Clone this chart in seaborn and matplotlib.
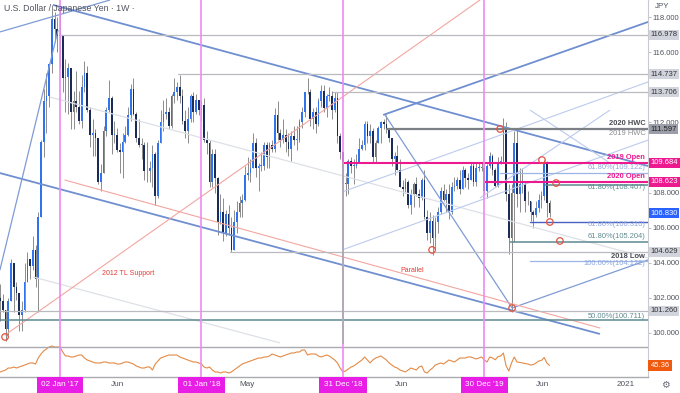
import numpy as np
import matplotlib
matplotlib.use("Agg")
import matplotlib.pyplot as plt
import seaborn as sns
from matplotlib.transforms import blended_transform_factory

# ---------------- data (weekly USD/JPY, Aug 2016 - Jun 2020) ----------------
first_open = 102.0
close_2016 = [101.8, 101.3, 100.2, 101.8, 104.0, 102.6, 102.3, 101.0, 101.3, 102.9, 104.2, 103.8,
              104.7, 103.1, 106.6, 110.9, 113.2, 113.5, 115.3, 117.9, 117.3, 116.9]
high_2016 = [102.8, 102.2, 101.3, 102.0, 104.2, 104.0, 102.9, 102.3, 101.8, 104.0, 104.6, 104.2,
             105.5, 105.0, 106.9, 111.0, 113.9, 114.8, 115.4, 118.66, 118.3, 118.0]
low_2016 = [100.7, 101.2, 99.55, 99.9, 101.8, 101.2, 101.9, 100.1, 100.1, 101.2, 102.9, 103.1,
            103.6, 102.6, 101.2, 106.6, 110.0, 111.4, 112.9, 114.8, 116.6, 116.0]

close_2017 = [117.0, 114.5, 114.6, 115.1, 112.6, 113.2, 112.9, 112.1, 114.0, 114.8, 112.7, 111.3,
              111.4, 111.1, 108.6, 109.1, 111.5, 112.7, 113.4, 111.3, 111.3, 110.4, 110.3, 110.9,
              111.3, 112.4, 113.9, 112.5, 111.1, 110.7, 110.7, 109.2, 109.2, 109.4, 110.2, 107.8,
              110.8, 112.0, 112.5, 112.6, 111.8, 113.5, 113.7, 114.0, 113.5, 112.1, 111.5, 112.2,
              113.5, 112.6, 113.3, 112.7]
high_2017 = [118.6, 116.9, 115.6, 115.4, 115.1, 113.8, 114.9, 113.8, 114.7, 115.5, 115.2, 112.9,
             112.2, 111.6, 111.1, 109.6, 111.8, 112.9, 114.4, 113.5, 112.1, 111.7, 110.8, 111.4,
             111.8, 112.9, 114.2, 114.5, 112.6, 112.2, 111.1, 110.9, 110.9, 109.8, 110.7, 110.3,
             111.0, 112.7, 113.3, 113.4, 112.9, 113.6, 114.5, 114.3, 114.7, 113.9, 112.7, 112.9,
             113.6, 113.7, 113.6, 113.3]
low_2017 = [115.1, 113.7, 112.6, 112.5, 111.6, 111.6, 112.6, 111.9, 111.7, 113.7, 112.6, 110.6,
            110.1, 110.1, 108.5, 108.1, 109.1, 111.2, 112.6, 110.2, 110.8, 110.3, 109.1, 108.8,
            110.8, 111.2, 112.1, 112.4, 110.9, 110.6, 109.9, 108.7, 108.6, 108.6, 108.3, 107.3,
            107.7, 110.8, 111.5, 112.2, 111.6, 111.7, 113.1, 113.3, 113.1, 111.9, 111.1, 110.8,
            112.0, 112.0, 112.5, 112.4]

close_2018 = [113.0, 111.0, 110.8, 108.6, 110.2, 108.8, 106.3, 106.9, 105.7, 106.8, 106.0, 104.7,
              106.3, 106.9, 107.4, 107.6, 109.0, 109.1, 109.4, 110.8, 109.4, 109.5, 109.5, 110.7,
              110.0, 110.7, 110.5, 112.4, 111.4, 111.0, 111.3, 110.9, 110.5, 111.2, 111.0, 111.0,
              112.0, 112.6, 113.7, 113.7, 112.2, 112.6, 111.9, 113.2, 113.8, 112.8, 113.5, 113.5,
              112.7, 113.4, 111.2, 110.3]
high_2018 = [113.3, 113.4, 111.5, 111.0, 110.5, 110.5, 108.9, 107.9, 107.7, 107.0, 107.3, 106.6,
             107.0, 107.5, 107.8, 107.9, 109.5, 110.0, 109.9, 111.4, 111.1, 109.7, 110.3, 110.9,
             110.9, 110.9, 111.0, 112.8, 113.2, 111.6, 112.2, 111.6, 111.4, 111.5, 111.8, 111.8,
             112.2, 112.9, 113.7, 114.55, 113.9, 112.8, 112.9, 113.4, 114.1, 114.1, 113.6, 114.0,
             113.8, 113.7, 113.7, 111.4]
low_2018 = [112.1, 110.9, 110.2, 108.3, 108.3, 108.0, 105.6, 106.2, 105.25, 105.5, 105.6, 104.63,
            104.7, 105.7, 106.6, 106.6, 107.5, 108.7, 108.6, 109.4, 108.9, 108.1, 109.2, 109.3,
            109.4, 109.4, 110.3, 110.3, 111.0, 110.6, 110.8, 110.3, 110.1, 109.8, 110.7, 110.4,
            110.9, 111.7, 112.3, 113.6, 111.8, 111.6, 111.4, 111.8, 112.9, 112.6, 112.3, 113.2,
            112.2, 112.6, 110.8, 109.9]

close_2019 = [108.5, 108.5, 109.8, 109.5, 109.5, 109.7, 110.5, 110.7, 111.9, 111.2, 111.5, 110.0,
              110.8, 111.7, 112.0, 111.9, 111.6, 111.1, 109.9, 110.1, 109.3, 108.3, 108.2, 108.6,
              107.3, 107.9, 108.5, 107.9, 107.7, 108.7, 106.6, 105.7, 106.4, 105.4, 106.3, 106.9,
              108.1, 107.6, 107.9, 106.9, 108.3, 108.4, 108.7, 108.2, 109.3, 108.8, 108.7, 109.5,
              108.6, 109.4, 109.4, 109.4]
high_2019 = [110.3, 109.1, 109.9, 110.0, 109.9, 110.2, 111.1, 111.0, 112.1, 112.1, 111.9, 111.7,
             111.0, 111.8, 112.1, 112.2, 112.4, 111.7, 111.1, 110.3, 110.7, 109.9, 108.7, 108.8,
             108.7, 108.2, 108.6, 108.9, 108.2, 108.8, 109.3, 107.0, 106.9, 106.7, 106.6, 107.2,
             108.3, 108.5, 108.2, 108.5, 108.6, 108.9, 108.9, 109.3, 109.5, 109.4, 109.1, 109.7,
             109.7, 109.7, 109.7, 109.7]
low_2019 = [104.9, 107.8, 107.9, 109.1, 108.5, 109.4, 109.7, 110.4, 110.4, 110.8, 110.8, 109.7,
            109.7, 110.8, 110.8, 111.6, 111.4, 110.9, 109.5, 109.0, 109.3, 108.3, 107.8, 108.0,
            107.1, 106.8, 107.2, 107.8, 107.2, 107.6, 106.5, 105.3, 105.1, 104.46, 104.8, 105.7,
            106.8, 107.5, 106.9, 106.5, 106.8, 108.1, 108.2, 107.9, 108.2, 108.3, 108.2, 108.7,
            108.4, 108.4, 109.2, 109.2]

close_2020 = [108.1, 109.5, 110.1, 109.3, 108.4, 109.7, 109.8, 111.6, 107.9, 105.4, 108.0, 110.8,
              107.9, 108.5, 108.5, 107.5, 107.5, 106.9, 106.7, 107.1, 107.6, 107.8, 109.6, 107.4,
              106.83]
high_2020 = [109.7, 109.6, 110.3, 110.2, 109.4, 110.0, 110.1, 112.23, 112.0, 108.5, 108.5, 111.5,
             111.7, 109.4, 109.4, 108.6, 108.1, 107.5, 107.0, 107.5, 107.9, 108.1, 109.85, 109.8,
             107.6]
low_2020 = [107.9, 107.7, 109.4, 109.0, 108.3, 108.3, 109.6, 109.7, 107.5, 104.5, 101.18, 105.2,
            107.2, 106.9, 108.0, 106.9, 107.3, 106.4, 106.0, 106.6, 106.9, 107.1, 107.6, 106.6,
            106.6]

rsi_values = [36.7, 38, 39.3, 42, 42, 43.3, 42, 43.3, 44.7, 46, 47.3, 48.7, 48.7, 47.3, 55.3, 60.7,
              64.7, 67.3, 70, 71.3, 70, 70,
              70, 63.3, 58, 58, 56.7, 56.7, 58, 59.3, 59.3, 55.3, 52.7, 51.3, 50, 48.7, 48.7, 48.7,
              50, 50, 48.7, 48.7, 48.7, 47.3, 47.3, 48.7, 50, 50, 48.7, 47.3, 44.7, 43.3, 42, 42,
              43.3, 43.3, 39.3, 47.3, 51.3, 55.3, 56.7, 58, 59.3, 59.3, 59.3, 59.3, 56.7, 55.3, 54,
              52.7, 51.3, 50, 50, 48.7,
              47.3, 43.3, 42, 43.3, 39.3, 36.7, 36.7, 35.3, 36.7, 36.7, 35.3, 36.7, 39.3, 42, 44.7,
              47.3, 48.7, 50, 51.3, 52.7, 54, 55.3, 55.3, 56.7, 56.7, 58, 60.7, 59.3, 58, 56.7, 58,
              59.3, 60.7, 62, 62, 63.3, 63.3, 66, 66, 59.3, 60.7, 60.7, 60.7, 58, 56.7, 58, 59.3,
              58, 55.3, 52.7, 48.7, 42,
              36.7, 38, 40.7, 43.3, 44.7, 47.3, 50, 52.7, 56.7, 52.7, 48.7, 52.7, 55.3, 56.7, 58,
              55.3, 52.7, 48.7, 46, 43.3, 42, 39.3, 38, 36.7, 39.3, 42, 40.7, 39.3, 43.3, 44.7,
              36.7, 35.3, 39.3, 42, 46, 47.3, 48.7, 47.3, 50, 52.7, 51.3, 50, 52.7, 55.3, 55.3,
              55.3, 56.7, 56.7, 55.3, 54, 55.3, 56.7,
              52.7, 50, 56.7, 55.3, 53, 57, 58, 62, 45, 38, 48.7, 56.7, 50, 49.5, 48.7, 48, 47.3,
              46, 46.5, 48.7, 51.3, 52, 56, 48.7, 45.36]

# x = weeks relative to the week of 02 Jan 2017
week_start = -22

# drawn annotations (week, price)
trend_lines = [  # (w0, p0, w1, p1, kind)
    (-2.6, 118.69, 216.2, 109.51, "main"),
    (-22.1, 109.11, 198.5, 99.94, "main"),
    (-3.7, 113.44, 216.2, 104.27, "faint"),
    (-9.9, 103.19, 80.9, 99.43, "faint"),
    (-22.1, 117.15, 18.4, 118.97, "mid"),
    (-22.1, 103.58, -0.7, 117.26, "mid"),
    (118.8, 112.42, 216.2, 117.72, "main"),
    (103.7, 104.73, 216.2, 110.99, "light"),
    (103.7, 108.03, 216.2, 114.30, "light"),
    (119.5, 112.42, 166.2, 101.42, "mid"),
    (166.2, 101.42, 216.2, 104.16, "mid"),
    (154.4, 107.69, 202.2, 112.70, "light"),
    (172.8, 112.70, 202.2, 109.68, "light"),
]
red_lines = [(-20.2, 99.88, 154.4, 118.97), (1.8, 108.71, 198.5, 100.28)]

levels = [  # (price, start week, kind)
    (116.978, 0.0, "gray"), (114.737, 43.4, "gray"), (113.706, 100.4, "gray"),
    (111.597, 120.2, "dark"), (109.684, 104.0, "open"), (109.122, 161.8, "fibl"),
    (108.623, 156.0, "open"), (108.407, 178.3, "fibt"), (106.310, 172.8, "fibb"),
    (105.204, 165.4, "fibt"), (104.629, 62.5, "gray"), (104.122, 172.8, "fibl"),
    (101.260, -22.1, "gray"), (100.711, -22.1, "fibt"),
]
year_marks = [0, 52, 104, 156]
year_labels = ["02 Jan '17", "01 Jan '18", "31 Dec '18", "30 Dec '19"]
month_marks = [21.3, 68.8, 125.4, 177.2, 208.0]
month_labels = ["Jun", "May", "Jun", "Jun", "2021"]

circle_w = [-20.2, 136.8, 161.8, 166.2, 177.2, 182.4, 180.1, 183.8]
circle_p = [99.77, 104.73, 111.62, 101.42, 109.85, 108.54, 106.32, 105.24]

right_texts = [  # (price, text, kind)
    (111.96, "2020 HWC", "dark"), (111.39, "2019 HWC", "gray"),
    (110.02, "2019 Open", "open"), (109.42, "61.80%(109.122)", "fibl"),
    (108.94, "2020 Open", "open"), (108.26, "61.80%(108.407)", "fibt"),
    (106.15, "61.80%(106.310)", "fibl"), (105.47, "61.80%(105.204)", "fibt"),
    (104.38, "2018 Low", "dark"), (103.93, "100.00%(104.122)", "fibl"),
    (100.96, "50.00%(100.711)", "fibt"),
]
axis_boxes = [  # (price, text, face, text colour)
    (116.978, "116.978", "#d1d4dc", "#333333"), (114.737, "114.737", "#d1d4dc", "#333333"),
    (113.706, "113.706", "#d1d4dc", "#333333"), (111.597, "111.597", "#9b9ea8", "#222222"),
    (109.684, "109.684", "#ec1a8e", "white"), (108.623, "108.623", "#ec1a8e", "white"),
    (106.830, "106.830", "#2962ff", "white"), (104.629, "104.629", "#d1d4dc", "#333333"),
    (101.260, "101.260", "#d1d4dc", "#333333"),
]
price_ticks = [100, 102, 104, 106, 108, 112, 116, 118]

# ---------------- styling ----------------
sns.set_theme(style="white")
plt.rcParams["font.family"] = ["Liberation Sans", "DejaVu Sans"]

UP, DOWN, WICK = "#2f74ee", "#1a2b57", "#8c8c8c"
MAG_V = "#f08af3"
OPEN_C = "#ec1a8e"
line_style = {
    "main": dict(color="#6f8fd0", lw=1.3), "mid": dict(color="#7e9bd6", lw=0.9),
    "light": dict(color="#bccbed", lw=0.8), "faint": dict(color="#dde0e6", lw=0.9),
}
level_style = {
    "gray": dict(color="#b9bbc0", lw=0.9), "dark": dict(color="#7d7f86", lw=1.6),
    "open": dict(color=OPEN_C, lw=1.5), "fibl": dict(color="#9db4e6", lw=0.9),
    "fibt": dict(color="#5d8a90", lw=1.1), "fibb": dict(color="#4a5fc1", lw=1.0),
}
text_col = {"dark": "#4a4c52", "gray": "#8a8c92", "open": OPEN_C,
            "fibl": "#8ea7dc", "fibt": "#5d8a90"}

W, H = 680, 393
fig = plt.figure(figsize=(W / 100, H / 100), dpi=100)
ax = fig.add_axes([0, 1 - 344 / H, 648 / W, 344 / H])
axr = fig.add_axes([0, 1 - 377 / H, 648 / W, 33 / H], sharex=ax)

close = np.array(close_2016 + close_2017 + close_2018 + close_2019 + close_2020)
high = np.array(high_2016 + high_2017 + high_2018 + high_2019 + high_2020)
low = np.array(low_2016 + low_2017 + low_2018 + low_2019 + low_2020)
openp = np.concatenate([[first_open], close[:-1]])
high = np.maximum(high, np.maximum(openp, close))
low = np.minimum(low, np.minimum(openp, close))
weeks = np.arange(len(close)) + week_start

XMIN, XMAX = -60 / 2.72, 588 / 2.72
YTOP, YBOT = 118.97, 118.97 - 344 / 17.55

# candles
ax.vlines(weeks, low, high, color=WICK, lw=0.7, zorder=2)
up = close >= openp
dn = ~up
ax.bar(weeks[up], np.maximum(close[up] - openp[up], 0.04), bottom=openp[up], width=0.62,
       color=UP, zorder=3, linewidth=0)
ax.bar(weeks[dn], np.maximum(openp[dn] - close[dn], 0.04), bottom=close[dn], width=0.62,
       color=DOWN, zorder=3, linewidth=0)

# drawings
for w0, p0, w1, p1, kind in trend_lines:
    ax.plot([w0, w1], [p0, p1], zorder=4, solid_capstyle="butt", **line_style[kind])
for w0, p0, w1, p1 in red_lines:
    ax.plot([w0, w1], [p0, p1], color="#f3a6a0", lw=0.8, zorder=4)
for p, w0, kind in levels:
    ax.plot([w0, XMAX + 5], [p, p], zorder=4, **level_style[kind])
for wm in year_marks:
    ax.axvline(wm, color=MAG_V, lw=1.2, zorder=4)
    axr.axvline(wm, color=MAG_V, lw=1.2, zorder=4)
ax.plot([104, 104], [109.684, YBOT], color="#a9abb0", lw=1.2, zorder=4)
ax.scatter(circle_w, circle_p, s=22, facecolors="none", edgecolors="#e4533f",
           linewidths=0.9, zorder=6)

ax.text(25, 103.41, "2012 TL Support", color="#e53935", fontsize=5, ha="center", va="center")
ax.text(129.4, 103.53, "Parallel", color="#e53935", fontsize=5, ha="center", va="center")
for p, t, kind in right_texts:
    bold = kind in ("dark", "open")
    ax.text(XMAX - 1.0, p, t, color=text_col[kind], fontsize=5.4, ha="right", va="center",
            fontweight="bold" if bold else "normal", zorder=7)

ax.text(-20.6, 118.5, "U.S. Dollar / Japanese Yen \u00b7 1W \u00b7", color="#50535e",
        fontsize=6.3, ha="left", va="center", zorder=7)

ax.set_xlim(XMIN, XMAX)
ax.set_ylim(YBOT, YTOP)
ax.yaxis.tick_right()
ax.set_yticks(price_ticks)
ax.set_yticklabels([f"{t:.3f}" for t in price_ticks])
ax.tick_params(axis="y", length=2, width=0.6, color="#b0b3b8", labelsize=5.5,
               labelcolor="#50535e", pad=1.2, right=True)
ax.tick_params(axis="x", bottom=False, labelbottom=False)
for s in ["top", "left", "bottom"]:
    ax.spines[s].set_visible(False)
ax.spines["right"].set_color("#c8cacf")
ax.spines["right"].set_linewidth(0.8)
ax.grid(False)

tr = blended_transform_factory(ax.transAxes, ax.transData)
for p, t, face, tc in axis_boxes:
    ax.text(1.004, p, t, transform=tr, fontsize=5.5, color=tc, ha="left", va="center",
            bbox=dict(boxstyle="square,pad=0.2", fc=face, ec="none"), zorder=8, clip_on=False)

# RSI panel
sns.lineplot(x=weeks[:len(rsi_values)], y=rsi_values, ax=axr, color="#e38a46", lw=0.8)
axr.axhline(70, color="#a9abb0", lw=1.0)
axr.set_ylim(30, 74)
axr.set_xlim(XMIN, XMAX)
axr.set_yticks([])
axr.tick_params(axis="x", bottom=False, labelbottom=False)
axr.set_xlabel("")
axr.set_ylabel("")
for s in ["top", "left"]:
    axr.spines[s].set_visible(False)
axr.spines["bottom"].set_color("#a9abb0")
axr.spines["bottom"].set_linewidth(1.0)
axr.spines["right"].set_color("#c8cacf")
axr.spines["right"].set_linewidth(0.8)
axr.grid(False)
trr = blended_transform_factory(axr.transAxes, axr.transData)
axr.text(1.004, rsi_values[-1], f"{rsi_values[-1]:.2f}", transform=trr, fontsize=5.5,
         color="white", ha="left", va="center", clip_on=False,
         bbox=dict(boxstyle="square,pad=0.3", fc="#ef5a10", ec="none"))

# date axis labels
trd = blended_transform_factory(axr.transData, fig.transFigure)
for wm, lab in zip(year_marks, year_labels):
    axr.text(wm, 8 / H, lab, transform=trd, fontsize=5.9, color="white", ha="center",
             va="center", clip_on=False,
             bbox=dict(boxstyle="square,pad=0.55", fc="#e91ee6", ec="none"))
for wm, lab in zip(month_marks, month_labels):
    axr.text(wm, 8 / H, lab, transform=trd, fontsize=5.9, color="#50535e", ha="center",
             va="center", clip_on=False)

fig.text(662 / W, 1 - 7 / H, "JPY", fontsize=5.8, color="#50535e", ha="center", va="center")
fig.text(665 / W, 8 / H, "\u2699", fontsize=7, color="#6a6d78", ha="center", va="center",
         family=["DejaVu Sans"])

fig.savefig("out.png", dpi=100)
